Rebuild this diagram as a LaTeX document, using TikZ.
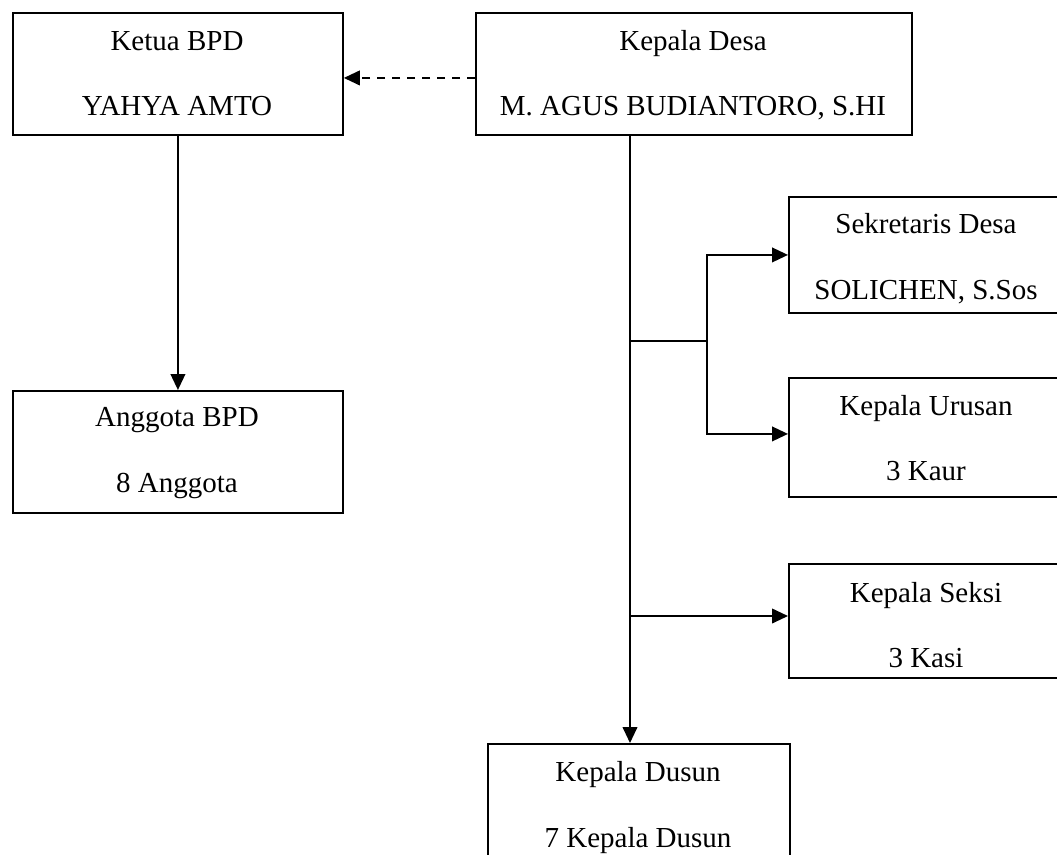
\documentclass[tikz,border=0pt]{standalone}
\usepackage{fontspec}
\setmainfont{Liberation Serif}
\usetikzlibrary{arrows.meta,calc}
\begin{document}
\begin{tikzpicture}[x=0.75pt,y=-0.75pt,
  box/.style={draw, line width=1.4pt, inner sep=0pt, anchor=north west},
  lbl/.style={anchor=base, inner sep=0pt, font=\fontsize{21.75}{26}\selectfont},
  conn/.style={line width=1.4pt},
  arr/.style={conn, -{Triangle[length=12pt,width=11pt]}},
  dashconn/.style={arr, dash pattern=on 6pt off 5.25pt}]
\useasboundingbox (0,0) rectangle (1057,854);
\clip (0,0) rectangle (1057,854);
\fill[white] (0,0) rectangle (1057,854);
% boxes
\node[box, minimum width=247.5pt, minimum height=91.5pt] (ketua) at (12,12) {};
\node[box, minimum width=327pt, minimum height=91.5pt] (desa) at (475,12) {};
\node[box, minimum width=207pt, minimum height=87pt] (sek) at (788,196) {};
\node[box, minimum width=207pt, minimum height=89.25pt] (urusan) at (788,377) {};
\node[box, minimum width=207pt, minimum height=85.5pt] (seksi) at (788,563) {};
\node[box, minimum width=247.5pt, minimum height=91.5pt] (anggota) at (12,390) {};
\node[box, minimum width=226.5pt, minimum height=105pt] (dusun) at (487,743) {};
% texts
\node[lbl] (t1a) at (177,50) {Ketua BPD};
\node[lbl] (t1b) at (177,115) {YAHYA AMTO};
\node[lbl] (t2a) at (693,50) {Kepala Desa};
\node[lbl] (t2b) at (693,115) {M. AGUS BUDIANTORO, S.HI};
\node[lbl] (t3a) at (926,233) {Sekretaris Desa};
\node[lbl] (t3b) at (926,299) {SOLICHEN, S.Sos};
\node[lbl] (t4a) at (926,415) {Kepala Urusan};
\node[lbl] (t4b) at (926,480) {3 Kaur};
\node[lbl] (t5a) at (926,602) {Kepala Seksi};
\node[lbl] (t5b) at (926,667) {3 Kasi};
\node[lbl] (t6a) at (177,426) {Anggota BPD};
\node[lbl] (t6b) at (177,492) {8 Anggota};
\node[lbl] (t7a) at (638,781) {Kepala Dusun};
\node[lbl] (t7b) at (638,847) {7 Kepala Dusun};
% connectors
\coordinate (tx) at (630,0);
\coordinate (j1) at (630,341);
\coordinate (j2) at (707,341);
\coordinate (j3) at (630,616);
\draw[dashconn] ($(desa.west)+(0,4)$) -- ($(ketua.east)+(0,4)$);
\draw[arr] (ketua.south) -- (anggota.north);
\draw[arr] (desa.south -| tx) -- (dusun.north -| tx);
\draw[conn] (j1) -- (j2);
\draw[arr] (j2) |- (sek.west);
\draw[arr] (j2) |- ($(urusan.west)+(0,-3.5)$);
\draw[arr] (j3) -- (j3 -| seksi.west);
\end{tikzpicture}
\end{document}
